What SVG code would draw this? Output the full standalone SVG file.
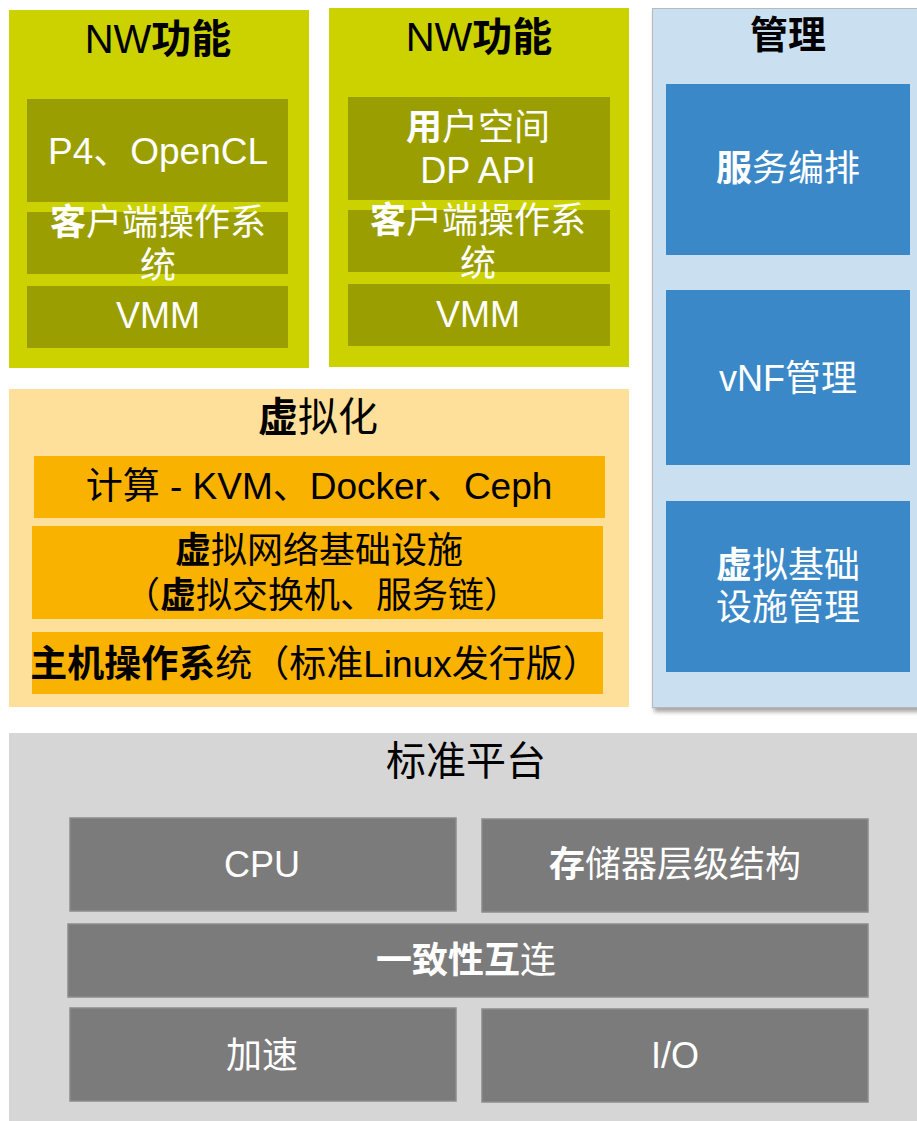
<svg xmlns="http://www.w3.org/2000/svg" width="917" height="1121" viewBox="0 0 917 1121">
  <style>
    text { font-family: "Liberation Sans", "Noto Sans CJK SC", sans-serif; text-anchor: middle; }
    .title { font-size: 40px; fill: #000; }
    .lbl { font-size: 36px; }
    .w { fill: #fff; }
    .k { fill: #000; }
    .b { font-weight: bold; }
    .nwPanel { fill: #CBD200; }
    .nwBox { fill: #9A9E00; }
    .virtPanel { fill: #FFE09A; }
    .virtBox { fill: #F9B200; }
    .mgmtPanel { fill: #CADFF0; stroke: #B8B8B8; stroke-width: 1; }
    .mgmtBox { fill: #3A88C8; }
    .platPanel { fill: #D6D6D6; }
    .platBox { fill: #7B7B7B; stroke: #8C8C8C; stroke-width: 1.5; }
  </style>
  <defs>
    <filter id="shadow" x="-5%" y="-5%" width="115%" height="115%">
      <feGaussianBlur in="SourceAlpha" stdDeviation="2"/>
      <feOffset dx="2" dy="4"/>
      <feComponentTransfer><feFuncA type="linear" slope="0.35"/></feComponentTransfer>
      <feMerge><feMergeNode/><feMergeNode in="SourceGraphic"/></feMerge>
    </filter>
  </defs>
  <rect width="917" height="1121" fill="#fff"/>

  <!-- Network function stack 1 -->
  <g id="nw1">
    <rect class="nwPanel" x="9" y="10" width="300" height="358"/>
    <text class="title" x="158" y="53">NW<tspan class="b">功能</tspan></text>
    <rect class="nwBox" x="27" y="99" width="261" height="103"/>
    <rect class="nwBox" x="27" y="212" width="261" height="62"/>
    <rect class="nwBox" x="27" y="286" width="261" height="62"/>
    <text class="w" x="158" y="164" style="font-size:37px">P4、OpenCL</text>
    <text class="lbl w" x="158" y="235"><tspan class="b">客</tspan>户端操作系</text>
    <text class="lbl w" x="158" y="278">统</text>
    <text class="lbl w" x="158" y="328">VMM</text>
  </g>

  <!-- Network function stack 2 -->
  <g id="nw2">
    <rect class="nwPanel" x="329" y="8" width="300" height="359"/>
    <text class="title" x="479" y="51">NW<tspan class="b">功能</tspan></text>
    <rect class="nwBox" x="348" y="97" width="262" height="103"/>
    <rect class="nwBox" x="348" y="210" width="262" height="62"/>
    <rect class="nwBox" x="348" y="284" width="262" height="62"/>
    <text class="lbl w" x="478" y="140"><tspan class="b">用</tspan>户空间</text>
    <text class="lbl w" x="478" y="183">DP API</text>
    <text class="lbl w" x="478" y="233"><tspan class="b">客</tspan>户端操作系</text>
    <text class="lbl w" x="478" y="276">统</text>
    <text class="lbl w" x="478" y="327">VMM</text>
  </g>

  <!-- Management -->
  <g id="mgmt">
    <rect class="mgmtPanel" x="652.5" y="8.5" width="270" height="699" filter="url(#shadow)"/>
    <text class="b" x="788" y="48" style="font-size:38px">管理</text>
    <rect class="mgmtBox" x="666" y="84" width="244" height="171"/>
    <rect class="mgmtBox" x="666" y="290" width="244" height="175"/>
    <rect class="mgmtBox" x="666" y="501" width="244" height="171"/>
    <text class="lbl w" x="788" y="181"><tspan class="b">服</tspan>务编排</text>
    <text class="lbl w" x="788" y="391">vNF管理</text>
    <text class="lbl w" x="788" y="578"><tspan class="b">虚</tspan>拟基础</text>
    <text class="lbl w" x="788" y="620">设施管理</text>
  </g>

  <!-- Virtualization layer -->
  <g id="virt">
    <rect class="virtPanel" x="9" y="389" width="620" height="318"/>
    <text class="k" x="318" y="431" style="font-size:40px"><tspan class="b">虚</tspan>拟化</text>
    <rect class="virtBox" x="34" y="456" width="571" height="62"/>
    <rect class="virtBox" x="32" y="526" width="571" height="93"/>
    <rect class="virtBox" x="32" y="632" width="571" height="62"/>
    <text class="k" x="319" y="499" style="font-size:37px">计算 - KVM、Docker、Ceph</text>
    <text class="lbl k" x="319" y="563"><tspan class="b">虚</tspan>拟网络基础设施</text>
    <text class="lbl k" x="322" y="608">（<tspan class="b">虚</tspan>拟交换机、服务链）</text>
    <text class="k" x="315" y="677" style="font-size:37px"><tspan class="b">主机操作系</tspan>统（标准Linux发行版）</text>
  </g>

  <!-- Standard platform -->
  <g id="platform">
    <rect class="platPanel" x="9" y="733" width="908" height="388"/>
    <text class="title" x="466" y="775">标准平台</text>
    <rect class="platBox" x="70" y="818" width="386" height="93"/>
    <rect class="platBox" x="482" y="819" width="386" height="93"/>
    <rect class="platBox" x="68" y="924" width="800" height="73"/>
    <rect class="platBox" x="70" y="1008" width="386" height="93"/>
    <rect class="platBox" x="482" y="1009" width="386" height="93"/>
    <text class="lbl w" x="262" y="877">CPU</text>
    <text class="lbl w" x="675" y="877"><tspan class="b">存</tspan>储器层级结构</text>
    <text class="lbl w" x="466" y="973"><tspan class="b">一致性互</tspan>连</text>
    <text class="lbl w" x="262" y="1068">加速</text>
    <text class="lbl w" x="675" y="1068">I/O</text>
  </g>

  <!-- no connectors in this layered diagram -->
  <g id="connectors"/>
</svg>
